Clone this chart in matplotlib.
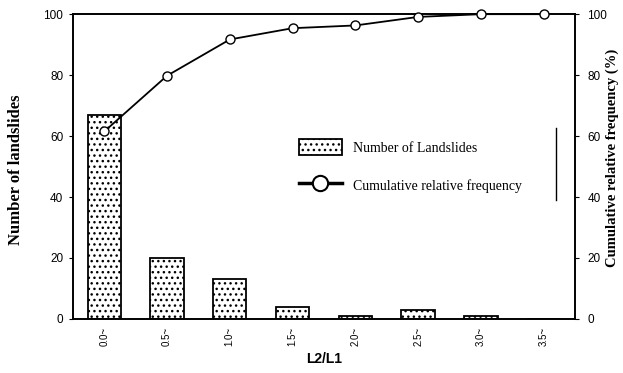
import matplotlib.pyplot as plt
import numpy as np
from matplotlib.patches import Patch
from matplotlib.lines import Line2D

# L2/L1 classes and landslide counts
classes = ['0.0~', '0.5~', '1.0~', '1.5~', '2.0~', '2.5~', '3.0~', '3.5~']
counts = [67, 20, 13, 4, 1, 3, 1, 0]
cum_freq = [61.5, 79.8, 91.7, 95.4, 96.3, 99.1, 100, 100]

plt.rcParams['hatch.linewidth'] = 1.0
fig = plt.figure(figsize=(6.23, 3.73), dpi=100)
ax1 = fig.add_axes([0.117, 0.145, 0.806, 0.817])
x = np.arange(len(classes))

ax1.bar(x, counts, width=0.53, color='white', edgecolor='black',
        linewidth=1.3, hatch='...')
ax1.set_xlim(-0.5, 7.5)
ax1.set_ylim(0, 100)
ax1.set_yticks([0, 20, 40, 60, 80, 100])
ax1.set_xticks(x)
ax1.set_xticklabels(classes, rotation=90, fontsize=7, family='Liberation Sans')
ax1.tick_params(axis='x', length=0, pad=6)
ax1.tick_params(axis='y', direction='out', length=3, labelsize=8.5, pad=4)
for lab in ax1.get_yticklabels():
    lab.set_family('Liberation Sans')
ax1.set_ylabel('Number of landslides', family='Liberation Serif',
               fontweight='bold', fontsize=12)
ax1.yaxis.set_label_coords(-0.098, 0.49)
ax1.set_xlabel('L2/L1', family='Liberation Sans', fontweight='bold',
               fontsize=10, labelpad=4)

ax2 = ax1.twinx()
ax2.plot(x, cum_freq, color='black', linewidth=1.3, marker='o',
         markersize=6.5, markerfacecolor='white', markeredgecolor='black',
         markeredgewidth=1.0, clip_on=False, zorder=5)
ax2.set_ylim(0, 100)
ax2.set_yticks([0, 20, 40, 60, 80, 100])
ax2.tick_params(axis='y', direction='out', length=3, labelsize=8.5, pad=6)
for lab in ax2.get_yticklabels():
    lab.set_family('Liberation Sans')
ax2.set_ylabel('Cumulative relative frequency (%)', family='Liberation Serif',
               fontweight='bold', fontsize=10.5)
ax2.yaxis.set_label_coords(1.06, 0.53)

for a in (ax1, ax2):
    for s in a.spines.values():
        s.set_linewidth(1.2)

handles = [Patch(facecolor='white', edgecolor='black', hatch='...', linewidth=1.3),
           Line2D([], [], color='black', linewidth=2.5, marker='o', markersize=11,
                  markerfacecolor='white', markeredgewidth=1.5)]
leg = ax2.legend(handles, ['Number of Landslides', 'Cumulative relative frequency'],
                 loc='upper left', bbox_to_anchor=(0.425, 0.63), frameon=False,
                 prop={'family': 'Liberation Serif', 'size': 10},
                 handlelength=3.1, handleheight=1.4, labelspacing=1.55,
                 handletextpad=0.8)
ax2.plot([0.962, 0.962], [0.39, 0.625], transform=ax2.transAxes,
         color='black', linewidth=1.0)

fig.savefig('out.png', dpi=100)
